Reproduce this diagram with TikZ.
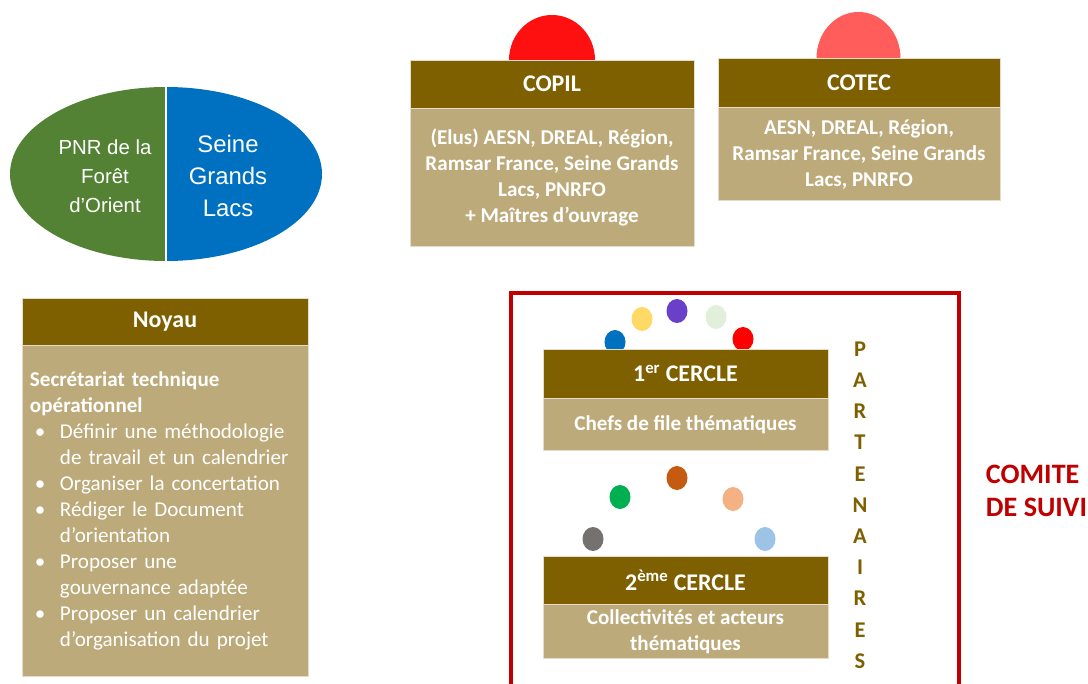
\documentclass[tikz,border=0pt]{standalone}
\usepackage{fontspec}
\setmainfont{Carlito}
\newfontfamily\arialfont{Liberation Sans}
\usepackage{color}
\usetikzlibrary{positioning}

\definecolor{headbrown}{RGB}{127,96,0}
\definecolor{bodytan}{RGB}{189,170,122}
\definecolor{pnrgreen}{RGB}{84,130,53}
\definecolor{sglblue}{RGB}{0,112,192}
\definecolor{comitered}{RGB}{192,0,0}
\definecolor{copilred}{RGB}{255,16,16}
\definecolor{cotecred}{RGB}{255,92,92}
\definecolor{dotblue}{RGB}{0,112,192}
\definecolor{dotyellow}{RGB}{255,217,102}
\definecolor{dotpurple}{RGB}{106,64,200}
\definecolor{dotmint}{RGB}{226,239,218}
\definecolor{dotred}{RGB}{255,0,0}
\definecolor{dotrust}{RGB}{197,90,17}
\definecolor{dotgreen}{RGB}{0,176,80}
\definecolor{dotpeach}{RGB}{244,177,131}
\definecolor{dotgrey}{RGB}{118,113,113}
\definecolor{dotsky}{RGB}{157,195,230}

\newcommand{\puce}[1]{\par\raggedright\hangindent=0.75cm\hangafter=1\noindent\makebox[0.75cm][l]{\hspace{0.12cm}\textbullet}#1\par}

\begin{document}
\begin{tikzpicture}[
				x=0.025cm, y=-0.025cm,
				head/.style={rectangle, fill=headbrown, draw=bodytan!40!white, text=white, minimum height=1.2cm, font=\bfseries\fontsize{17}{20}\selectfont},
				body/.style={rectangle, fill=bodytan, draw=bodytan!40!white, text=white, align=center, font=\bfseries\fontsize{15}{18.5}\selectfont},
				letter/.style={text=headbrown, font=\bfseries\fontsize{16}{18}\selectfont, inner sep=0pt}
			]
			\useasboundingbox (0,0) rectangle (1088,684);
			% ellipse split in two
			\begin{scope}
			\clip (166,174) ellipse [x radius=156, y radius=87];
			\fill[pnrgreen] (0,80) rectangle (166,270);
			\fill[sglblue] (166,80) rectangle (330,270);
			\end{scope}
			\draw[white, line width=1pt] (166,86) -- (166,262);
			\node[text=white, align=center, font=\arialfont\fontsize{14.5}{20.6}\selectfont] (pnr) at (105,176) {PNR de la\\Forêt\\d’Orient};
			\node[text=white, align=center, font=\arialfont\fontsize{17}{23}\selectfont] (sgl) at (228,176) {Seine\\Grands\\Lacs};
			% half circles behind the headers
			\fill[copilred] (552,60) ellipse [x radius=43, y radius=45];
			\fill[cotecred] (858.5,58) ellipse [x radius=42, y radius=46];
			% partner dots
			\foreach \px/\py/\pc in {615/342/dotblue, 642/319/dotyellow, 677/311/dotpurple, 716/317/dotmint, 743/339/dotred,
				677/478/dotrust, 620/497/dotgreen, 733/499/dotpeach, 593/539/dotgrey, 765/539/dotsky}
				\fill[\pc] (\px,\py) ellipse [x radius=10.5, y radius=12];
			\node[head, minimum width=7.1cm] (copil) at (552,84) {COPIL};
			\node[body, minimum width=7.1cm, minimum height=3.45cm] (copilbody) [below=0pt of copil] {(Elus) AESN, DREAL, Région,\\Ramsar France, Seine Grands\\Lacs, PNRFO\\+ Maîtres d’ouvrage};
			\node[head, minimum width=7.05cm, minimum height=1.225cm] (cotec) at (859,82.5) {COTEC};
			\node[body, minimum width=7.05cm, minimum height=2.325cm] (cotecbody) [below=0pt of cotec] {AESN, DREAL, Région,\\Ramsar France, Seine Grands\\Lacs, PNRFO};
			\node[head, minimum width=7.15cm, minimum height=1.175cm] (noyau) at (165,321.5) {Noyau};
			\node[body, minimum width=7.15cm, minimum height=8.275cm, text width=6.75cm, inner xsep=0.2cm, align=left] (noyaubody) [below=0pt of noyau] {Secrétariat technique\\opérationnel\mdseries
				\puce{Définir une méthodologie\newline de travail et un calendrier}
				\puce{Organiser la concertation}
				\puce{Rédiger le Document\newline d’orientation}
				\puce{Proposer une\newline gouvernance adaptée}
				\puce{Proposer un calendrier\newline d’organisation du projet}};
			\node[head, minimum width=7.125cm, minimum height=1.225cm] (cercle1) at (685.5,373.5) {1\textsuperscript{er} CERCLE};
			\node[body, minimum width=7.125cm, minimum height=1.3cm] (cercle1body) [below=0pt of cercle1] {Chefs de file thématiques};
			\node[head, minimum width=7.125cm] (cercle2) at (685.5,580) {2\textsuperscript{ème} CERCLE};
			\node[body, minimum width=7.125cm, minimum height=1.3cm] (cercle2body) [below=0pt of cercle2] {Collectivités et acteurs\\thématiques};
			% partenaires, one letter per line
			\foreach \l [count=\i] in {P,A,R,T,E,N,A,I,R,E,S}
				\node[letter] (part\i) at (860,{349+31.2*(\i-1)}) {\l};
			% comite de suivi frame
			\draw[comitered, line width=2.8pt] (511,700) |- (959,293) -- (959,700);
			\node[text=comitered, align=left, anchor=west, font=\bfseries\fontsize{20}{24}\selectfont] (comite) at (981,491) {COMITE\\DE SUIVI};
			\end{tikzpicture}
\end{document}
